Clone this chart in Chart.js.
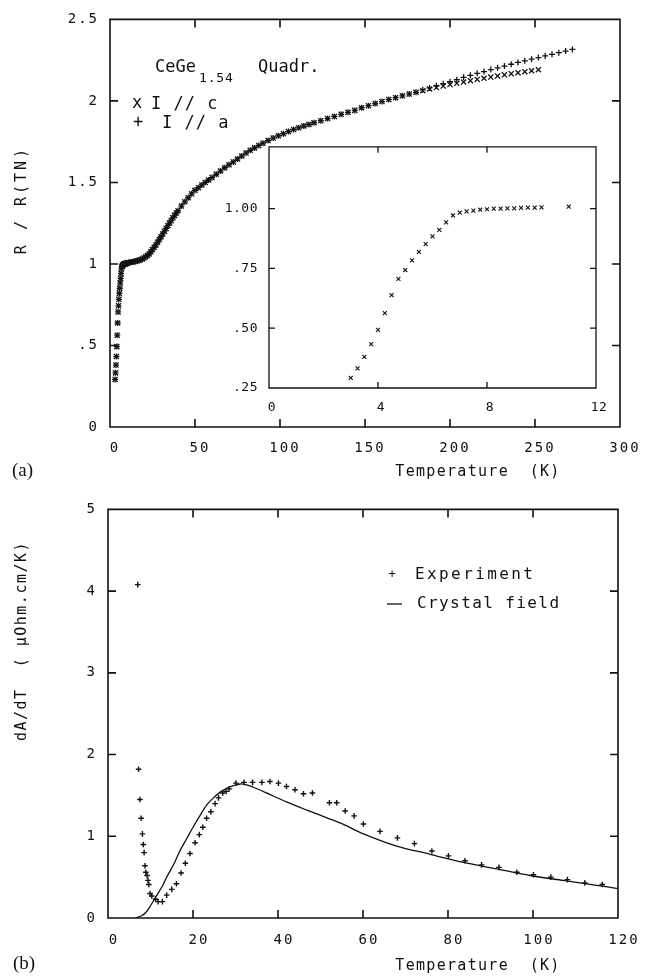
<!DOCTYPE html>
<html>
<head>
<meta charset="utf-8">
<script src="https://cdn.jsdelivr.net/npm/chart.js@4.4.0/dist/chart.umd.min.js"></script>
<style>
  body { margin: 0; background: #fff; }
  #page { position: relative; width: 660px; height: 978px; overflow: hidden; background: #fff; }
  canvas { position: absolute; }
  .tag { position: absolute; font-family: "Liberation Serif", serif; font-size: 19px; color: #111; line-height: 20px; }
</style>
</head>
<body>
<div id="page">
  <canvas id="chartA" width="660" height="490" style="left:0;top:0"></canvas>
  <canvas id="chartInset" width="410" height="295" style="left:210px;top:128px"></canvas>
  <canvas id="chartB" width="660" height="488" style="left:0;top:490px"></canvas>
  <div class="tag" style="left:12px;top:460px">(a)</div>
  <div class="tag" style="left:13px;top:953px">(b)</div>
</div>
<script>
// (a) R/R(TN) of CeGe1.54
const insetTemp = [3.0, 3.25, 3.5, 3.75, 4.0, 4.25, 4.5, 4.75, 5.0, 5.25, 5.5, 5.75, 6.0, 6.25, 6.5, 6.75, 7.0, 7.25, 7.5, 7.75, 8.0, 8.25, 8.5, 8.75, 9.0, 9.25, 9.5, 9.75, 10.0, 11.0];
const insetRes = [0.292, 0.332, 0.380, 0.433, 0.493, 0.563, 0.638, 0.706, 0.743, 0.783, 0.819, 0.851, 0.884, 0.911, 0.942, 0.971, 0.983, 0.988, 0.991, 0.995, 0.997, 1.000, 1.000, 1.001, 1.001, 1.003, 1.004, 1.004, 1.005, 1.008];

const highTemp = [12, 13, 14, 15, 16, 17, 18, 19, 20, 21, 22, 23, 24, 25, 26, 27, 28, 29, 30, 31, 32, 33, 34, 35, 36, 37, 38, 39, 40, 42, 44, 46, 48, 50, 52, 54, 56, 58, 60, 62.5, 65, 67.5, 70, 72.5, 75, 77.5, 80, 82.5, 85, 87.5, 90, 93, 96, 99, 102, 105, 108, 111, 114, 117, 120, 124, 128, 132, 136, 140, 144, 148, 152, 156, 160, 164, 168, 172, 176, 180];
const highRes = [1.010, 1.012, 1.014, 1.016, 1.019, 1.022, 1.026, 1.031, 1.037, 1.044, 1.052, 1.061, 1.075, 1.088, 1.102, 1.117, 1.133, 1.150, 1.167, 1.184, 1.201, 1.218, 1.235, 1.251, 1.267, 1.283, 1.298, 1.313, 1.327, 1.355, 1.381, 1.406, 1.430, 1.452, 1.468, 1.485, 1.500, 1.515, 1.530, 1.550, 1.570, 1.590, 1.608, 1.626, 1.644, 1.662, 1.680, 1.697, 1.712, 1.727, 1.741, 1.757, 1.772, 1.786, 1.799, 1.812, 1.824, 1.835, 1.846, 1.856, 1.866, 1.879, 1.892, 1.905, 1.918, 1.930, 1.942, 1.958, 1.971, 1.984, 1.996, 2.008, 2.020, 2.031, 2.042, 2.053];

const tailTempC = [184, 188, 192, 196, 200, 204, 208, 212, 216, 220, 224, 228, 232, 236, 240, 244, 248, 252];
const tailResC = [2.063, 2.073, 2.082, 2.091, 2.100, 2.108, 2.116, 2.124, 2.132, 2.139, 2.146, 2.153, 2.160, 2.167, 2.173, 2.179, 2.185, 2.191];
const tailTempA = [184, 188, 192, 196, 200, 204, 208, 212, 216, 220, 224, 228, 232, 236, 240, 244, 248, 252, 256, 260, 264, 268, 272];
const tailResA = [2.068, 2.080, 2.093, 2.106, 2.118, 2.130, 2.145, 2.157, 2.169, 2.180, 2.192, 2.203, 2.214, 2.225, 2.236, 2.246, 2.256, 2.266, 2.276, 2.286, 2.296, 2.306, 2.316];

const mainXTicks = [0, 50, 100, 150, 200, 250, 300];
const mainYTicks = [0, 0.5, 1, 1.5, 2, 2.5];
const mainYLabels = ['0', '.5', '1', '1.5', '2', '2.5'];
const insetXTicks = [0, 4, 8, 12];
const insetYTicks = [0.25, 0.5, 0.75, 1.0];
const insetYLabels = ['.25', '.50', '.75', '1.00'];

// (b) dR/dT, experiment and crystal field calculation
const expTemp = [7.0, 7.2, 7.5, 7.8, 8.1, 8.3, 8.5, 8.7, 8.9, 9.2, 9.4, 9.6, 9.9, 10.3, 11.2, 11.8, 12.8, 13.8, 15.0, 16.1, 17.2, 18.2, 19.3, 20.5, 21.5, 22.3, 23.2, 24.2, 25.2, 26.0, 27.0, 27.8, 28.5, 30.1, 32.0, 34.0, 36.2, 38.1, 40.1, 42.0, 44.0, 46.0, 48.1, 52.1, 53.8, 55.8, 57.9, 60.1, 64.0, 68.1, 72.1, 76.2, 80.1, 84.0, 87.9, 92.0, 96.2, 100.1, 104.2, 108.1, 112.2, 116.3];
const expDeriv = [4.08, 1.82, 1.45, 1.22, 1.03, 0.90, 0.80, 0.64, 0.56, 0.52, 0.46, 0.41, 0.30, 0.27, 0.23, 0.20, 0.20, 0.28, 0.35, 0.42, 0.55, 0.67, 0.79, 0.92, 1.02, 1.11, 1.22, 1.30, 1.40, 1.47, 1.53, 1.55, 1.58, 1.65, 1.66, 1.66, 1.66, 1.67, 1.65, 1.61, 1.57, 1.52, 1.53, 1.41, 1.41, 1.31, 1.25, 1.15, 1.06, 0.98, 0.91, 0.82, 0.76, 0.70, 0.65, 0.62, 0.56, 0.53, 0.50, 0.47, 0.43, 0.41];
const cfTemp = [6.4, 8, 9.1, 10, 11.5, 13, 13.8, 15.5, 16.9, 18.5, 20.1, 21.6, 23.2, 24.8, 26.4, 28, 29.5, 31.1, 32.6, 34.2, 37.3, 42, 46.8, 51.8, 55.4, 60.1, 67.9, 75.8, 83.6, 91.5, 99.3, 107.1, 115, 120];
const cfDeriv = [0, 0.03, 0.08, 0.15, 0.28, 0.41, 0.50, 0.66, 0.82, 0.97, 1.12, 1.25, 1.38, 1.47, 1.54, 1.59, 1.62, 1.64, 1.63, 1.60, 1.53, 1.42, 1.32, 1.22, 1.145, 1.03, 0.88, 0.78, 0.68, 0.60, 0.52, 0.46, 0.40, 0.36];

const derivXTicks = [0, 20, 40, 60, 80, 100, 120];
const derivYTicks = [0, 1, 2, 3, 4, 5];

const MONO = '"DejaVu Sans Mono", monospace';
const INK = '#111';

function toPoints(xs, ys) {
    return xs.map((x, i) => ({ x: x, y: ys[i] }));
}

function axis(min, max, tickValues, labels, size, pad, offset, fontSize) {
    return {
        type: 'linear',
        min: min,
        max: max,
        grid: { display: false, drawTicks: false },
        border: { display: false },
        afterBuildTicks: s => { s.ticks = tickValues.map(v => ({ value: v })); },
        afterFit: s => { if (s.isHorizontal()) s.height = size; else s.width = size; },
        ticks: {
            color: INK,
            autoSkip: false,
            maxRotation: 0,
            padding: pad,
            labelOffset: offset,
            font: { family: MONO, size: fontSize },
            callback: (v, i) => labels ? labels[i] : String(v)
        }
    };
}

// box with inward ticks on all four sides, then free text (titles, labels, legend)
function decorPlugin(frame, notes) {
    return {
        id: 'decor',
        beforeDraw(chart) {
            chart.ctx.letterSpacing = frame.spacing;
        },
        afterDraw(chart) {
            const ctx = chart.ctx;
            const area = chart.chartArea;
            const xs = chart.scales.x;
            const ys = chart.scales.y;
            ctx.save();
            ctx.strokeStyle = INK;
            ctx.lineWidth = frame.width;
            ctx.beginPath();
            ctx.rect(area.left, area.top, area.right - area.left, area.bottom - area.top);
            xs.ticks.forEach(t => {
                const px = xs.getPixelForValue(t.value);
                ctx.moveTo(px, area.bottom);
                ctx.lineTo(px, area.bottom - frame.len);
                ctx.moveTo(px, area.top);
                ctx.lineTo(px, area.top + frame.len);
            });
            ys.ticks.forEach(t => {
                const py = ys.getPixelForValue(t.value);
                ctx.moveTo(area.left, py);
                ctx.lineTo(area.left + frame.len, py);
                ctx.moveTo(area.right, py);
                ctx.lineTo(area.right - frame.len, py);
            });
            ctx.stroke();
            ctx.restore();

            notes.forEach(n => {
                ctx.save();
                ctx.fillStyle = INK;
                ctx.strokeStyle = INK;
                ctx.translate(n.x, n.y);
                if (n.rotate) ctx.rotate(n.rotate);
                if (n.line) {
                    ctx.lineWidth = 1.3;
                    ctx.beginPath();
                    ctx.moveTo(0, 0);
                    ctx.lineTo(n.line, 0);
                    ctx.stroke();
                } else {
                    ctx.letterSpacing = n.spacing || '0px';
                    ctx.font = n.font;
                    ctx.textAlign = n.align || 'left';
                    ctx.textBaseline = 'middle';
                    ctx.fillText(n.text, 0, 0);
                }
                ctx.restore();
            });
        }
    };
}

function initializeCharts() {

    new Chart(document.getElementById('chartA'), {
        type: 'scatter',
        data: {
            datasets: [{
                label: 'I // c',
                data: toPoints(insetTemp.concat(highTemp, tailTempC), insetRes.concat(highRes, tailResC)),
                pointStyle: 'crossRot',
                pointRadius: 3.6,
                borderColor: INK,
                borderWidth: 1.3
            }, {
                label: 'I // a',
                data: toPoints(insetTemp.concat(highTemp, tailTempA), insetRes.concat(highRes, tailResA)),
                pointStyle: 'cross',
                pointRadius: 3,
                borderColor: INK,
                borderWidth: 1.3
            }]
        },
        options: {
            responsive: false,
            animation: false,
            events: [],
            layout: { padding: { left: 0, top: 10, right: 40, bottom: 0 } },
            plugins: { legend: { display: false }, tooltip: { enabled: false } },
            scales: {
                x: axis(0, 300, mainXTicks, null, 63, 13, 5, 14),
                y: axis(0, 2.5, mainYTicks, mainYLabels, 110, 11, 0, 14)
            }
        },
        plugins: [decorPlugin({ len: 8, width: 1.6, spacing: '2px' }, [
            { text: 'CeGe', x: 155, y: 68, font: '17px ' + MONO },
            { text: '1.54', x: 199, y: 79, font: '13px ' + MONO, spacing: '0.8px' },
            { text: 'Quadr.', x: 258, y: 68, font: '17px ' + MONO },
            { text: 'x', x: 137, y: 104, font: '17px ' + MONO, align: 'center' },
            { text: 'I // c', x: 151, y: 105, font: '17px ' + MONO, spacing: '1px' },
            { text: '+', x: 138, y: 123, font: '17px ' + MONO, align: 'center' },
            { text: 'I // a', x: 162, y: 124, font: '17px ' + MONO, spacing: '1px' },
            { text: 'R / R(TN)', x: 22, y: 200, rotate: -Math.PI / 2, font: '15px ' + MONO, align: 'center', spacing: '3px' },
            { text: 'Temperature  (K)', x: 478, y: 472, font: '15px ' + MONO, align: 'center', spacing: '1.3px' }
        ])]
    });

    new Chart(document.getElementById('chartInset'), {
        type: 'scatter',
        data: {
            datasets: [{
                label: 'I // c',
                data: toPoints(insetTemp, insetRes),
                pointStyle: 'crossRot',
                pointRadius: 2.8,
                borderColor: INK,
                borderWidth: 1.1
            }]
        },
        options: {
            responsive: false,
            animation: false,
            events: [],
            layout: { padding: { left: 0, top: 10, right: 24, bottom: 0 } },
            plugins: { legend: { display: false }, tooltip: { enabled: false } },
            scales: {
                x: axis(0, 12, insetXTicks, null, 35, 12, 3, 13),
                y: axis(0.25, 1.258, insetYTicks, insetYLabels, 59, 11, 0, 13)
            }
        },
        plugins: [decorPlugin({ len: 6, width: 1.3, spacing: '0.5px' }, [])]
    });

    new Chart(document.getElementById('chartB'), {
        type: 'scatter',
        data: {
            datasets: [{
                label: 'Experiment',
                data: toPoints(expTemp, expDeriv),
                pointStyle: 'cross',
                pointRadius: 2.8,
                borderColor: INK,
                borderWidth: 1.4
            }, {
                label: 'Crystal field',
                data: toPoints(cfTemp, cfDeriv),
                showLine: true,
                tension: 0.3,
                pointRadius: 0,
                borderColor: INK,
                borderWidth: 1.3
            }]
        },
        options: {
            responsive: false,
            animation: false,
            events: [],
            layout: { padding: { left: 0, top: 13, right: 42, bottom: 0 } },
            plugins: { legend: { display: false }, tooltip: { enabled: false } },
            scales: {
                x: axis(0, 120, derivXTicks, null, 60, 14, 6, 14),
                y: axis(0, 5, derivYTicks, null, 108, 11, 0, 14)
            }
        },
        plugins: [decorPlugin({ len: 8, width: 1.6, spacing: '2px' }, [
            { text: '+', x: 392, y: 85, font: '12px ' + MONO, align: 'center' },
            { text: 'Experiment', x: 415, y: 85, font: '16px ' + MONO, spacing: '2.4px' },
            { line: 15, x: 387, y: 114 },
            { text: 'Crystal field', x: 417, y: 114, font: '16px ' + MONO, spacing: '1.4px' },
            { text: 'dA/dT  ( \u03bcOhm.cm/K)', x: 22, y: 151, rotate: -Math.PI / 2, font: '15px ' + MONO, align: 'center', spacing: '1.5px' },
            { text: 'Temperature  (K)', x: 478, y: 476, font: '15px ' + MONO, align: 'center', spacing: '1.3px' }
        ])]
    });
}

if (document.readyState === 'loading') {
    document.addEventListener('DOMContentLoaded', initializeCharts);
} else {
    initializeCharts();
}
</script>
</body>
</html>
